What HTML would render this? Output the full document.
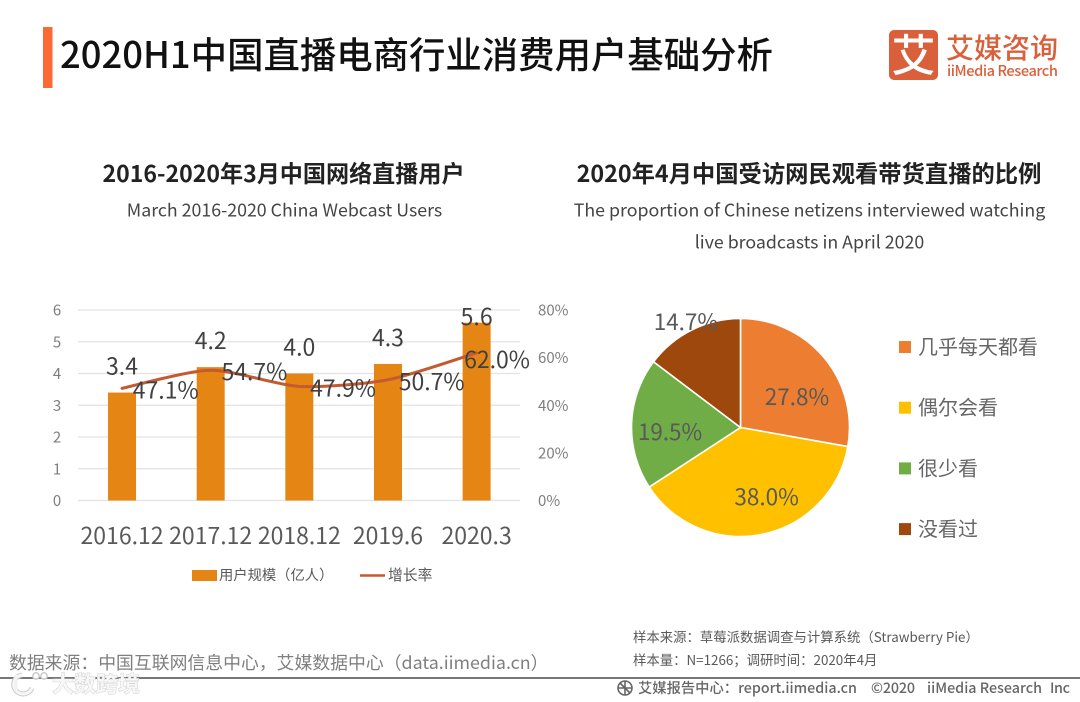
<!DOCTYPE html>
<html lang="zh">
<head>
<meta charset="utf-8">
<title>2020H1中国直播电商行业消费用户基础分析</title>
<style>
html,body{margin:0;padding:0;background:#fff;}
body{width:1080px;height:702px;overflow:hidden;position:relative;}
svg{position:absolute;left:0;top:0;display:block;}
text{font-family:"Noto Sans CJK SC","Liberation Sans",sans-serif;}
</style>
</head>
<body>
<svg id="slide" xmlns="http://www.w3.org/2000/svg" width="1080" height="702" viewBox="0 0 1080 702">
  <rect x="43" y="27" width="9.5" height="61" fill="#fb6a35"/>
  <text x="60" y="68" font-size="36.4" fill="#111" font-weight="500">2020H1中国直播电商行业消费用户基础分析</text>

  <g>
    <rect x="889" y="30" width="49" height="50" rx="5" fill="#d9603b"/>
    <text x="913.5" y="71" font-size="44" font-weight="500" fill="#fff" text-anchor="middle">艾</text>
    <text x="946" y="58" font-size="28" font-weight="500" fill="#d9603b">艾媒咨询</text>
    <text x="947" y="76" font-size="14.6" font-weight="500" fill="#d9603b" textLength="111">iiMedia Research</text>
  </g>

  <text x="283.5" y="182" font-size="23.1" font-weight="700" fill="#222" text-anchor="middle">2016-2020年3月中国网络直播用户</text>
  <text x="284.5" y="216.5" font-size="17.76" fill="#444" text-anchor="middle">March 2016-2020 China Webcast Users</text>
  <text x="809" y="182" font-size="23.3" font-weight="700" fill="#222" text-anchor="middle">2020年4月中国受访网民观看带货直播的比例</text>
  <text x="809.5" y="216.5" font-size="17.77" fill="#444" text-anchor="middle">The proportion of Chinese netizens interviewed watching</text>
  <text x="809.5" y="248.5" font-size="17.77" fill="#444" text-anchor="middle">live broadcasts in April 2020</text>

  <g id="combo-chart"></g>
  <g id="pie-chart"></g>

  <g>
    <rect x="192" y="570" width="25" height="11" fill="#e58614"/>
    <text x="219" y="580" font-size="14.3" fill="#595959">用户规模（亿人）</text>
    <line x1="360" y1="575.5" x2="385" y2="575.5" stroke="#c55a30" stroke-width="2.5"/>
    <text x="388" y="580" font-size="14.8" fill="#595959">增长率</text>
  </g>

  <text x="633" y="642" font-size="13.38" fill="#595959">样本来源：草莓派数据调查与计算系统（Strawberry Pie）</text>
  <text x="633" y="665" font-size="13.38" fill="#595959">样本量：N=1266；调研时间：2020年4月</text>
  <text x="9" y="669" font-size="17.85" fill="#7f7f7f">数据来源：中国互联网信息中心，艾媒数据中心（data.iimedia.cn）</text>

  <line x1="0" y1="678" x2="1080" y2="678" stroke="#777" stroke-width="2"/>

  <g fill="none" stroke="#666" stroke-width="1.6">
    <circle cx="625" cy="688" r="7"/>
    <path d="M618 688h14M625 681v14M620 683l10 10"/>
  </g>
  <text x="638" y="693" font-size="14.3" font-weight="500" fill="#666">艾媒报告中心：report.iimedia.cn</text>
  <text x="871" y="693" font-size="14.3" font-weight="500" fill="#666" textLength="44">©2020</text>
  <text x="927" y="693" font-size="14.3" font-weight="500" fill="#666" textLength="115">iiMedia Research</text>
  <text x="1050" y="693" font-size="14.3" font-weight="500" fill="#666" textLength="20">Inc</text>

  <g>
    <path d="M22 675 a9.5 9.5 0 1 0 10 13" fill="none" stroke="#ccc" stroke-width="5"/>
    <path d="M22 675 a9.5 9.5 0 1 0 10 13" fill="none" stroke="#f6f6f6" stroke-width="3"/>
    <line x1="16" y1="675" x2="16" y2="691" stroke="#f2f2f2" stroke-width="3"/>
    <circle cx="36" cy="676" r="3.2" fill="#fff" stroke="#ccc" stroke-width="1.5"/>
    <circle cx="44" cy="676" r="3.2" fill="#fff" stroke="#ccc" stroke-width="1.5"/>
    <text x="52" y="692" font-size="22" font-weight="700" fill="#f7f7f7" stroke="#c9c9c9" stroke-width="0.8" paint-order="stroke">大数跨境</text>
  </g>
</svg>

<script>
var categories = ['2016.12', '2017.12', '2018.12', '2019.6', '2020.3'];
var userValues = [3.4, 4.2, 4.0, 4.3, 5.6];
var growthValues = [47.1, 54.7, 47.9, 50.7, 62.0];
var leftTicks = [0, 1, 2, 3, 4, 5, 6];
var rightTicks = [0, 20, 40, 60, 80];
var pieLabels = ['几乎每天都看', '偶尔会看', '很少看', '没看过'];
var pieValues = [27.8, 38.0, 19.5, 14.7];
var pieColors = ['#ed7d31', '#ffc000', '#70ad47', '#9e480e'];

var NS = 'http://www.w3.org/2000/svg';
var combo = document.getElementById('combo-chart');
var pie = document.getElementById('pie-chart');

function make(parent, tag, attrs, content) {
  var el = document.createElementNS(NS, tag);
  for (var k in attrs) { el.setAttribute(k, attrs[k]); }
  if (content !== undefined) { el.textContent = content; }
  parent.appendChild(el);
  return el;
}

var plotLeft = 78, plotRight = 520, plotTop = 310, plotBottom = 500.5;
var bandWidth = 88.65;
function xCenter(i) { return 77.7 + bandWidth * (i + 0.5); }
function yLeft(v) { return plotBottom - (v / 6) * (plotBottom - plotTop); }
function yRight(v) { return plotBottom - (v / 80) * (plotBottom - plotTop); }

leftTicks.forEach(function (t) {
  var grid = make(combo, 'line', { x1: plotLeft, x2: plotRight, y1: yLeft(t), y2: yLeft(t), stroke: '#e3e3e3', 'stroke-width': 1.3 });
  
  
  var label = make(combo, 'text', { x: 57, y: yLeft(t) + 5.5, 'font-size': 15, fill: '#7f7f7f', 'text-anchor': 'middle' }, String(t));
  
  
});

rightTicks.forEach(function (t) {
  var label = make(combo, 'text', { x: 538, y: yRight(t) + 5.5, 'font-size': 15, fill: '#7f7f7f' }, t + '%');
  
  
});

categories.forEach(function (c, i) {
  var bar = make(combo, 'rect', { x: xCenter(i) - 14, y: yLeft(userValues[i]), width: 28, height: plotBottom - yLeft(userValues[i]), fill: '#e58614' });
  
  
  var tick = make(combo, 'text', { x: xCenter(i), y: 544, 'font-size': 23, fill: '#595959', 'text-anchor': 'middle' }, c);
  
  
});

var linePoints = growthValues.map(function (v, i) { return [xCenter(i), yRight(v)]; });
var lineD = 'M' + linePoints[0][0] + ' ' + linePoints[0][1];
for (var i = 0; i < linePoints.length - 1; i++) {
  var p0 = linePoints[Math.max(i - 1, 0)], p1 = linePoints[i], p2 = linePoints[i + 1], p3 = linePoints[Math.min(i + 2, linePoints.length - 1)];
  var c1x = p1[0] + (p2[0] - p0[0]) / 8, c1y = p1[1] + (p2[1] - p0[1]) / 8;
  var c2x = p2[0] - (p3[0] - p1[0]) / 8, c2y = p2[1] - (p3[1] - p1[1]) / 8;
  lineD += ' C' + c1x + ' ' + c1y + ' ' + c2x + ' ' + c2y + ' ' + p2[0] + ' ' + p2[1];
}
var growthLine = make(combo, 'path', { d: lineD, fill: 'none', stroke: '#c55a30', 'stroke-width': 3, 'stroke-linecap': 'round' });



categories.forEach(function (c, i) {
  var valueY = Math.max(yLeft(userValues[i]) - 18, 325);
  var valueLabel = make(combo, 'text', { x: xCenter(i), y: valueY, 'font-size': 23, fill: '#404040', 'text-anchor': 'middle' }, userValues[i].toFixed(1));
  
  
  var growthX = xCenter(i) + 43.7;
  var pulledIn = growthX > 497;
  var growthLabel = make(combo, 'text', { x: Math.min(growthX, 497), y: yRight(growthValues[i]) + (pulledIn ? 15 : 10), 'font-size': 23, fill: '#404040', 'text-anchor': 'middle' }, growthValues[i].toFixed(1) + '%');
  
  
});

var pieCx = 740.5, pieCy = 427.5, pieR = 109;
var pieTotal = pieValues.reduce(function (a, b) { return a + b; }, 0);
function piePoint(angle, r) {
  return [pieCx + r * Math.sin(angle), pieCy - r * Math.cos(angle)];
}
var cumulative = 0;
pieValues.forEach(function (v, i) {
  var start = cumulative / pieTotal * Math.PI * 2;
  cumulative += v;
  var end = cumulative / pieTotal * Math.PI * 2;
  var a = piePoint(start, pieR), b = piePoint(end, pieR);
  var large = end - start > Math.PI ? 1 : 0;
  var slice = make(pie, 'path', {
    d: 'M' + pieCx + ' ' + pieCy + ' L' + a[0] + ' ' + a[1] + ' A' + pieR + ' ' + pieR + ' 0 ' + large + ' 1 ' + b[0] + ' ' + b[1] + ' Z',
    fill: pieColors[i], stroke: '#fff', 'stroke-width': 1.6
  });
  
  
});

var pieLabelRadius = [0.64, 0.65, 0.72, 1.0];
var pieLabelShiftX = [3, 12, 8, -6];
var pieLabelShiftY = [14.5, 0, 7, -8];
cumulative = 0;
pieValues.forEach(function (v, i) {
  var start = cumulative / pieTotal * Math.PI * 2;
  cumulative += v;
  var end = cumulative / pieTotal * Math.PI * 2;
  var mid = (start + end) / 2;
  var pos = piePoint(mid, pieR * pieLabelRadius[i]);
  var label = make(pie, 'text', { x: pos[0] + pieLabelShiftX[i], y: pos[1] + pieLabelShiftY[i] + 8, 'font-size': 22.5, fill: '#595959', 'text-anchor': 'middle' }, v.toFixed(1) + '%');
  
  

  var rowY = 347 + i * 60.7;
  var swatch = make(pie, 'rect', { x: 899, y: rowY - 6, width: 12, height: 12, fill: pieColors[i] });
  
  
  var entry = make(pie, 'text', { x: 918, y: rowY + 7, 'font-size': 20, fill: '#666' }, pieLabels[i]);
  
  
});
</script>
</body>
</html>
